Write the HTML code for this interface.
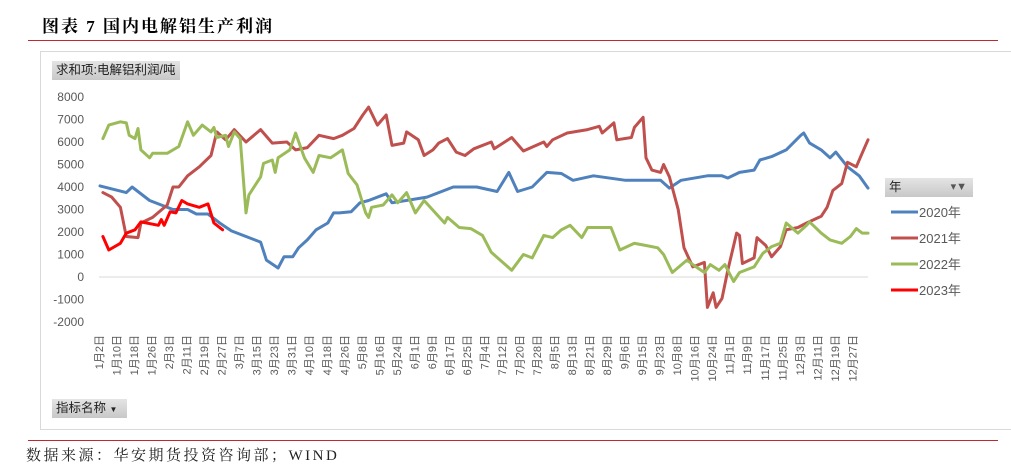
<!DOCTYPE html>
<html><head><meta charset="utf-8">
<style>
body{margin:0;background:#fff;width:1011px;height:472px;overflow:hidden;position:relative;font-family:"Liberation Sans","Noto Sans CJK SC",sans-serif}
.abs{position:absolute}
</style></head><body>
<div class="abs" style="left:42px;top:12px;font-family:'Liberation Serif','Noto Serif CJK SC',serif;font-weight:bold;font-size:17px;letter-spacing:2px;color:#000">图表 7 国内电解铝生产利润</div>
<div class="abs" style="left:28px;top:40px;width:970px;height:1px;background:#c0282d"></div>
<div class="abs" style="left:40px;top:51px;width:970px;height:377px;border:1px solid #d9d9d9"></div>
<div class="abs" style="left:28px;top:440px;width:970px;height:1px;background:#c0282d"></div>
<div class="abs" style="left:26px;top:444px;font-family:'Liberation Serif','Noto Serif CJK SC',serif;font-size:15px;letter-spacing:2.5px;color:#222">数据来源：华安期货投资咨询部；WIND</div>
<svg class="abs" style="left:0;top:0" width="1011" height="472" id="chart"></svg>
<script>
const yTicks=[8000,7000,6000,5000,4000,3000,2000,1000,0,-1000,-2000];
const xLabels=["1月2日","1月10日","1月18日","1月26日","2月3日","2月11日","2月19日","2月27日","3月7日","3月15日","3月23日","3月31日","4月10日","4月18日","4月26日","5月8日","5月16日","5月24日","6月1日","6月9日","6月17日","6月25日","7月4日","7月12日","7月20日","7月28日","8月5日","8月13日","8月21日","8月29日","9月6日","9月15日","9月23日","10月8日","10月16日","10月24日","11月1日","11月9日","11月17日","11月25日","12月3日","12月11日","12月19日","12月27日"];
const seriesNames=["2020年","2021年","2022年","2023年"];
const days2020=[0,9,11,17,25,30,33,37,41,45,50,55,57,61,63,66,68,71,74,78,80,82,86,89,92,98,100,112,121,129,136,140,143,148,153,158,162,169,180,192,195,199,208,213,215,219,224,226,230,235,240,241,243,247,250,252,256,260,263];
const vals2020=[4050,3750,4000,3400,3000,3000,2800,2800,2400,2050,1800,1550,750,400,900,900,1300,1650,2100,2400,2850,2850,2900,3300,3400,3700,3300,3550,4000,4000,3800,4650,3800,4000,4650,4600,4300,4500,4300,4300,3950,4300,4500,4500,4400,4650,4750,5200,5350,5650,6300,6400,5950,5650,5300,5550,4900,4500,3950];
const days2021=[1,4,7,9,13,14,18,23,25,27,30,34,38,40,43,46,50,55,59,64,67,71,75,80,83,87,90,92,95,98,100,104,105,109,111,114,116,119,122,125,128,134,135,141,145,152,153,155,160,167,171,172,176,177,182,183,186,187,189,192,193,195,198,200,203,207,208,210,211,213,215,218,219,220,224,225,228,230,233,235,239,242,247,249,251,254,256,259,261,263];
const vals2021=[3750,3550,3100,1800,1750,2400,2650,3200,4000,4000,4500,4900,5400,6450,6100,6550,6000,6550,5950,6000,5650,5750,6300,6150,6300,6600,7200,7550,6750,7200,5850,5950,6450,6100,5400,5650,5950,6150,5550,5400,5700,6000,5700,6200,5600,6000,5800,6100,6400,6550,6700,6400,6850,6100,6200,6650,7100,5300,4750,4650,5000,4450,3000,1300,450,650,-1350,-700,-1350,-950,300,1950,1850,600,850,1750,1400,900,1350,2100,2200,2400,2700,3100,3850,4150,5100,4900,5500,6100];
const days2022=[1,3,7,9,10,12,13,14,17,18,23,27,30,32,35,38,39,40,43,44,46,48,50,51,55,56,59,60,61,65,67,70,73,75,79,83,85,88,91,92,93,97,100,102,105,108,111,118,119,123,127,131,134,141,145,148,152,155,158,161,165,167,175,178,183,187,191,193,196,201,203,207,209,212,214,217,219,224,227,230,233,235,239,242,243,247,250,254,257,259,261,263];
const vals2022=[6150,6750,6900,6850,6300,6150,6600,5650,5300,5500,5500,5800,6900,6300,6750,6450,6650,6200,6300,5800,6450,6150,2850,3650,4450,5050,5200,4650,5300,5650,6400,5300,4650,5400,5300,5650,4600,4100,2850,2650,3100,3200,3650,3300,3750,2850,3400,2400,2650,2200,2150,1850,1100,300,1000,850,1850,1750,2100,2300,1750,2200,2200,1200,1500,1400,1300,1000,200,750,550,200,550,300,550,-200,200,450,1050,1350,1500,2400,1950,2300,2450,1950,1650,1500,1800,2150,1950,1950];
const days2023=[1,3,7,9,12,14,20,21,22,24,26,28,30,34,37,39,42];
const vals2023=[1800,1200,1500,1950,2100,2450,2300,2550,2300,2900,2850,3400,3250,3100,3250,2400,2100];
const colors=["#4F81BD","#C0504D","#9BBB59","#FF0000"];

const NS="http://www.w3.org/2000/svg";
const svg=document.getElementById('chart');
const X0=100,DX=2.92,Y0=277,YK=22.5/1000;
function xs(d){return X0+d*DX;}
function ys(v){return Y0-v*YK;}
function mk(t,a){const e=document.createElementNS(NS,t);for(const k in a)e.setAttribute(k,a[k]);svg.appendChild(e);return e;}

yTicks.forEach(v=>{
  const t=mk('text',{x:84,y:ys(v)+4,'text-anchor':'end','font-size':12,fill:'#595959','font-family':'Liberation Sans, sans-serif'});
  
  
  t.textContent=v;
});
const zl=mk('line',{x1:99,x2:868,y1:ys(0),y2:ys(0),stroke:'#d9d9d9','stroke-width':1});



xLabels.forEach((l,i)=>{
  const x=xs(i*6)+3,y=335;
  const t=mk('text',{x:x,y:y,transform:`rotate(-90 ${x} ${y})`,'text-anchor':'end','font-size':11,fill:'#595959','font-family':'Liberation Sans, Noto Sans CJK SC, sans-serif'});
  
  
  t.textContent=l;
});

const allDays=[days2020,days2021,days2022,days2023];
const allVals=[vals2020,vals2021,vals2022,vals2023];
allDays.forEach((ds,s)=>{
  const pts=ds.map((d,i)=>xs(d).toFixed(1)+','+ys(allVals[s][i]).toFixed(1)).join(' ');
  const p=mk('polyline',{points:pts,fill:'none',stroke:colors[s],'stroke-width':3,'stroke-linejoin':'round','stroke-linecap':'round'});
  
  
});

seriesNames.forEach((n,i)=>{
  const y=212+i*26;
  const l=mk('line',{x1:891,x2:918,y1:y,y2:y,stroke:colors[i],'stroke-width':3});
  
  
  const t=mk('text',{x:919,y:y+5,'font-size':13,fill:'#595959','font-family':'Liberation Sans, Noto Sans CJK SC, sans-serif'});
  
  
  t.textContent=n;
});
</script>
<div class="abs" style="left:52px;top:61px;width:128px;height:19px;background:linear-gradient(#e4e4e4,#c8c8c8);font-size:12.5px;line-height:19px;color:#222;padding-left:4px;box-sizing:border-box">求和项:电解铝利润/吨</div>
<div class="abs" style="left:52px;top:399px;width:75px;height:19px;background:linear-gradient(#e4e4e4,#c8c8c8);font-size:12.5px;line-height:19px;color:#222;padding-left:4px;box-sizing:border-box">指标名称 <span style="font-size:8px">▼</span></div>
<div class="abs" style="left:885px;top:178px;width:88px;height:19px;background:linear-gradient(#e4e4e4,#c8c8c8);font-size:12.5px;line-height:19px;color:#222;padding-left:4px;box-sizing:border-box">年<span style="position:absolute;right:6px;top:0;font-size:11px;color:#555">▾▼</span></div>
</body></html>
